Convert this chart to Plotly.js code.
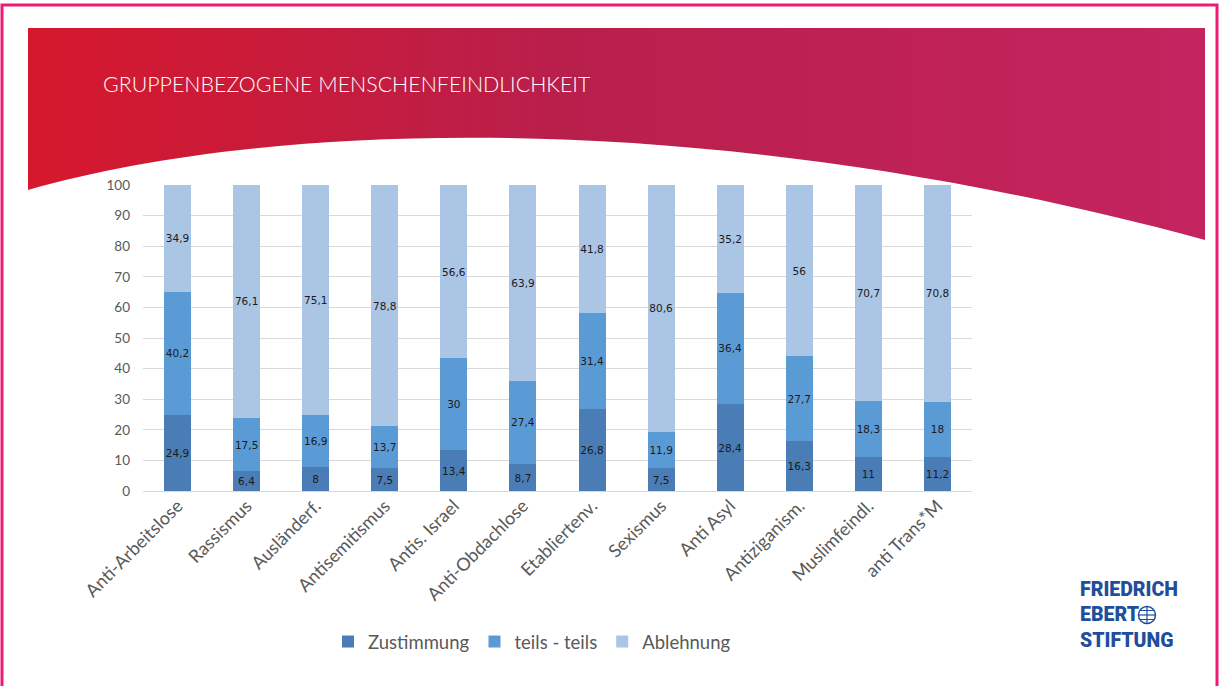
<!DOCTYPE html>
<html>
<head>
<meta charset="utf-8">
<script src="https://cdn.plot.ly/plotly-3.0.1.min.js"></script>
<style>
  html, body { margin:0; padding:0; background:#ffffff; }
  #wrap { position:relative; width:1220px; height:686px; overflow:hidden; }
  #bg { position:absolute; left:0; top:0; }
  #chart { position:absolute; left:0; top:0; width:1220px; height:686px; }
</style>
</head>
<body>
<div id="wrap">
  <svg id="bg" width="1220" height="686" xmlns="http://www.w3.org/2000/svg">
    <defs>
      <linearGradient id="g" x1="0" y1="0" x2="1" y2="0">
        <stop offset="0" stop-color="#d6182d"/>
        <stop offset="0.45" stop-color="#b91f4b"/>
        <stop offset="1" stop-color="#c4245f"/>
      </linearGradient>
    </defs>
    <rect x="2" y="5" width="1215" height="690" fill="none" stroke="#ec1b74" stroke-width="3"/>
    <path d="M28,28 L1205,28 L1205,240 C720,108 280,118 28,190 Z" fill="url(#g)"/>
  </svg>
  <div id="chart"></div>
</div>
<script>
const categories = ["Anti-Arbeitslose","Rassismus","Ausländerf.","Antisemitismus","Antis. Israel","Anti-Obdachlose","Etabliertenv.","Sexismus","Anti Asyl","Antiziganism.","Muslimfeindl.","anti Trans*M"];
const zustimmung = [24.9, 6.4, 8, 7.5, 13.4, 8.7, 26.8, 7.5, 28.4, 16.3, 11, 11.2];
const teilsTeils = [40.2, 17.5, 16.9, 13.7, 30, 27.4, 31.4, 11.9, 36.4, 27.7, 18.3, 18];
const ablehnung  = [34.9, 76.1, 75.1, 78.8, 56.6, 63.9, 41.8, 80.6, 35.2, 56, 70.7, 70.8];
const seriesNames = ["Zustimmung", "teils - teils", "Ablehnung"];
const yTicks = [0,10,20,30,40,50,60,70,80,90,100];
const titleText = "GRUPPENBEZOGENE MENSCHENFEINDLICHKEIT";
const logoLines = ["FRIEDRICH", "EBERT", "STIFTUNG"];

const colors = ["#4a7db5", "#5b9bd5", "#abc5e5"];
const fmt = v => String(v).replace('.', ',');

// plot area in pixels
const L = 143, R = 972, T = 185, B = 491;
const W = 1220, H = 686;
const xp = px => (px - L) / (R - L);
const yp = py => (B - py) / (B - T);

const seriesVals = [zustimmung, teilsTeils, ablehnung];
const traces = seriesVals.map((vals, i) => ({
  type: 'bar',
  name: seriesNames[i],
  x: categories,
  y: vals,
  text: vals.map(fmt),
  textposition: 'inside',
  insidetextanchor: 'middle',
  textangle: 0,
  constraintext: 'none',
  textfont: { family: 'DejaVu Sans, sans-serif', size: 10.5, color: '#1a1a1a' },
  marker: { color: colors[i], line: { width: 0 } },
  hoverinfo: 'skip'
}));

const annotations = [{
  text: logoLines.join('<br>'),
  xref: 'paper', yref: 'paper',
  x: xp(1078), y: yp(615),
  xanchor: 'left', yanchor: 'middle', align: 'left',
  showarrow: false,
  font: { family: 'Roboto, sans-serif', size: 19.5, weight: 900, color: '#1f4f9c' }
}];

const gx = 1147, gy = 615, gr = 8.5;
const shapes = [
  { type: 'circle', xref: 'paper', yref: 'paper', x0: xp(gx - gr), x1: xp(gx + gr), y0: yp(gy + gr), y1: yp(gy - gr), line: { color: '#1f4f9c', width: 1.5 }, fillcolor: 'rgba(0,0,0,0)' },
  { type: 'line', xref: 'paper', yref: 'paper', x0: xp(gx), x1: xp(gx), y0: yp(gy + gr), y1: yp(gy - gr), line: { color: '#1f4f9c', width: 1.2 } },
  { type: 'line', xref: 'paper', yref: 'paper', x0: xp(gx - gr), x1: xp(gx + gr), y0: yp(gy), y1: yp(gy), line: { color: '#1f4f9c', width: 1.2 } },
  { type: 'line', xref: 'paper', yref: 'paper', x0: xp(gx - gr * 0.85), x1: xp(gx + gr * 0.85), y0: yp(gy - 4.5), y1: yp(gy - 4.5), line: { color: '#1f4f9c', width: 1 } },
  { type: 'line', xref: 'paper', yref: 'paper', x0: xp(gx - gr * 0.85), x1: xp(gx + gr * 0.85), y0: yp(gy + 4.5), y1: yp(gy + 4.5), line: { color: '#1f4f9c', width: 1 } }
];

const layout = {
  width: W, height: H,
  margin: { l: L, r: W - R, t: T, b: H - B, pad: 0 },
  paper_bgcolor: 'rgba(0,0,0,0)',
  plot_bgcolor: 'rgba(0,0,0,0)',
  barmode: 'stack',
  bargap: 0.61,
  showlegend: true,
  title: {
    text: titleText,
    x: 103 / W, xanchor: 'left', xref: 'container',
    y: 1 - 85 / H, yanchor: 'middle', yref: 'container',
    font: { family: 'Lato, sans-serif', size: 21.4, weight: 300, color: '#ffffff' }
  },
  xaxis: {
    type: 'category',
    tickangle: -45,
    tickfont: { family: 'Lato, sans-serif', size: 18, color: '#595959' },
    showgrid: false, showline: false, ticks: '', zeroline: false,
    fixedrange: true
  },
  yaxis: {
    range: [0, 100],
    tickvals: yTicks,
    ticktext: yTicks.map(String),
    tickfont: { family: 'Lato, sans-serif', size: 13.5, color: '#595959' },
    showgrid: true, gridcolor: '#d9d9d9', gridwidth: 1,
    zeroline: true, zerolinecolor: '#d9d9d9', zerolinewidth: 1,
    showline: false, ticks: '', ticklabelstandoff: 12,
    fixedrange: true
  },
  legend: {
    orientation: 'h',
    x: xp(532), xanchor: 'center',
    y: yp(642), yanchor: 'middle',
    font: { family: 'Lato, sans-serif', size: 18.5, color: '#595959' },
    bgcolor: 'rgba(0,0,0,0)',
    traceorder: 'normal',
    itemwidth: 30
  },
  annotations: annotations,
  shapes: shapes
};

Plotly.newPlot('chart', traces, layout, { displayModeBar: false, staticPlot: true });
</script>
</body>
</html>
